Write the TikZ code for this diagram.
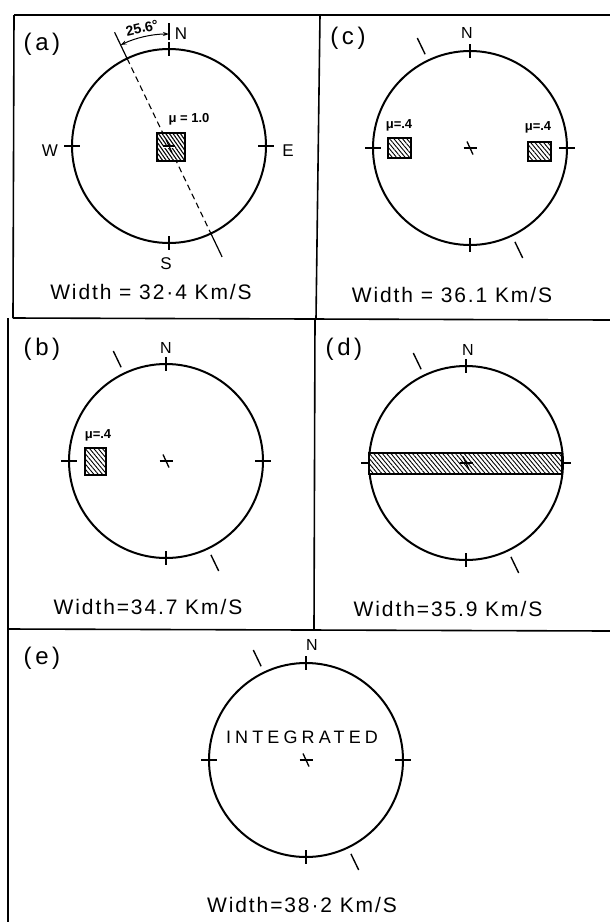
\documentclass[tikz,border=0pt]{standalone}
\usepackage{fontspec}
\setmainfont{Liberation Sans}
\newfontfamily\spaced[LetterSpace=9]{Liberation Sans}
\newfontfamily\widesp[LetterSpace=23]{Liberation Sans}
\newfontfamily\parsp[LetterSpace=15]{Liberation Sans}
\usetikzlibrary{patterns.meta,arrows.meta}
\tikzset{
  frame/.style={line width=1.6pt},
  ring/.style={line width=2pt},
  tickmark/.style={line width=1.4pt},
  hatch/.style={draw, line width=1.3pt, pattern={Lines[angle=-50,distance=3.3pt,line width=0.9pt]}},
  panellbl/.style={font=\parsp\fontsize{24}{26}\selectfont, inner sep=0pt},
  widthlbl/.style={font=\spaced\fontsize{21}{23}\selectfont, inner sep=0pt},
  nlbl/.style={font=\fontsize{16}{17}\selectfont, inner sep=0pt},
  mulbl/.style={font=\bfseries\fontsize{13}{14}\selectfont, inner sep=0pt},
  dial/.pic={
    \draw[ring] (0,0) circle[radius=97];
    \draw[tickmark] (0,-104) -- (0,-90);
    \draw[tickmark] (0,90) -- (0,104);
    \draw[tickmark] (-105,0) -- (-89,0);
    \draw[tickmark] (89,0) -- (105,0);
  },
  slashes/.pic={
    \draw[tickmark] (-44.9,-93.8) -- (-52.7,-110.0);
    \draw[tickmark] (44.9,93.8) -- (52.7,110.0);
    \draw[line width=1.3pt] (-6.5,0) -- (6.5,0);
    \draw[line width=1.3pt] (-3,-6.5) -- (3,6.5);
  }
}
\begin{document}
\begin{tikzpicture}[x=1pt,y=-1pt]
\useasboundingbox (0,0) rectangle (610,922);
\fill[white] (0,0) rectangle (610,922);

% frame
\draw[frame] (14,15) -- (610,15);
\draw[frame] (14,15) -- (13,318);
\draw[frame] (8,318) -- (8,922);
\draw[frame] (320,15) -- (316,319);
\draw[frame] (315,319) -- (314,630);
\draw[frame] (13,318) -- (610,320);
\draw[frame] (8,629) -- (610,631);

% ---------- panel (a)
\begin{scope}[shift={(169,146)}]
  \pic {dial};
  \draw[line width=1.2pt] (-41.9,-87.5) -- (-54.4,-113.7);
  \draw[line width=1.2pt] (41.9,87.5) -- (53.1,110.9);
  \draw[line width=1.1pt, dash pattern=on 6pt off 4pt] (-41.9,-87.5) -- (41.9,87.5);
  \draw[line width=1.2pt] (0,-106) -- (0,-123);
  \draw[line width=1pt, {Stealth[length=6pt,width=4pt]}-{Stealth[length=6pt,width=4pt]}]
     (-48.4,-101.0) arc[start angle=-115.6, end angle=-90, radius=112];
  \fill[white] (-12,-13) rectangle (16,15);
  \draw[hatch, pattern={Lines[angle=-55,distance=3pt,line width=1.1pt]}] (-12,-13) rectangle (16,15);
  \draw[white, line width=3pt] (-6,0) -- (6,0);
  \draw[line width=1.1pt] (-6,0) -- (6,0);
  \draw[line width=1.1pt] (-3,-6.5) -- (3,6.5);
\end{scope}
\node[panellbl] (la) at (42,44) {(a)};
\node[nlbl, font=\fontsize{17}{18}\selectfont] (na) at (181,34) {N};
\node[nlbl, font=\fontsize{17}{18}\selectfont] (wa) at (50,151) {W};
\node[nlbl, font=\fontsize{17}{18}\selectfont] (ea) at (288,151) {E};
\node[nlbl, font=\fontsize{17}{18}\selectfont] (sa) at (166,264) {S};
\node[font=\bfseries\fontsize{14}{15}\selectfont, inner sep=0pt, rotate=13] (ang) at (142,28) {25.6°};
\node[mulbl] (mua) at (189,119) {μ = 1.0};
\node[widthlbl] (wida) at (151,292) {Width = 32·4 Km/S};

% ---------- panel (c)
\begin{scope}[shift={(470,148)}]
  \pic {dial};
  \pic {slashes};
\end{scope}
\fill[white] (388,138) rectangle (411,158);
\draw[hatch] (388,138) rectangle (411,158);
\fill[white] (528,142) rectangle (551,161);
\draw[hatch] (528,142) rectangle (551,161);
\node[mulbl] (muc1) at (399,125) {μ=.4};
\node[mulbl] (muc2) at (538,127) {μ=.4};
\node[panellbl] (lc) at (348,38) {(c)};
\node[nlbl] (nc) at (467,33) {N};
\node[widthlbl] (widc) at (452,295) {Width = 36.1 Km/S};

% ---------- panel (b)
\begin{scope}[shift={(166,461)}]
  \pic {dial};
  \pic {slashes};
\end{scope}
\fill[white] (85,448) rectangle (106,475);
\draw[hatch] (85,448) rectangle (106,475);
\node[mulbl] (mub) at (98,435) {μ=.4};
\node[panellbl] (lb) at (42,349) {(b)};
\node[nlbl] (nb) at (166,348) {N};
\node[widthlbl] (widb) at (148,607) {Width=34.7 Km/S};

% ---------- panel (d)
\begin{scope}[shift={(466,463)}]
  \pic {dial};
  \draw[tickmark] (-44.9,-93.8) -- (-52.7,-110.0);
  \draw[tickmark] (44.9,93.8) -- (52.7,110.0);
\end{scope}
\fill[white] (369,453) rectangle (562,474);
\draw[hatch] (369,453) rectangle (562,474);
\draw[line width=1.3pt] (459.5,463) -- (472.5,463);
\draw[line width=1.3pt] (463,456.5) -- (469,469.5);
\draw[tickmark] (361,463) -- (369,463);
\draw[tickmark] (562,463) -- (571,463);
\node[panellbl] (ld) at (344,349) {(d)};
\node[nlbl] (nd) at (468,350) {N};
\node[widthlbl] (widd) at (448,609) {Width=35.9 Km/S};

% ---------- panel (e)
\begin{scope}[shift={(306,760)}]
  \pic {dial};
  \pic {slashes};
\end{scope}
\node[panellbl] (le) at (42,658) {(e)};
\node[nlbl] (ne) at (312,645) {N};
\node[font=\widesp\fontsize{18}{19}\selectfont, inner sep=0pt] (integ) at (302,737) {INTEGRATED};
\node[widthlbl] (wide) at (302,905) {Width=38·2 Km/S};
\end{tikzpicture}
\end{document}
